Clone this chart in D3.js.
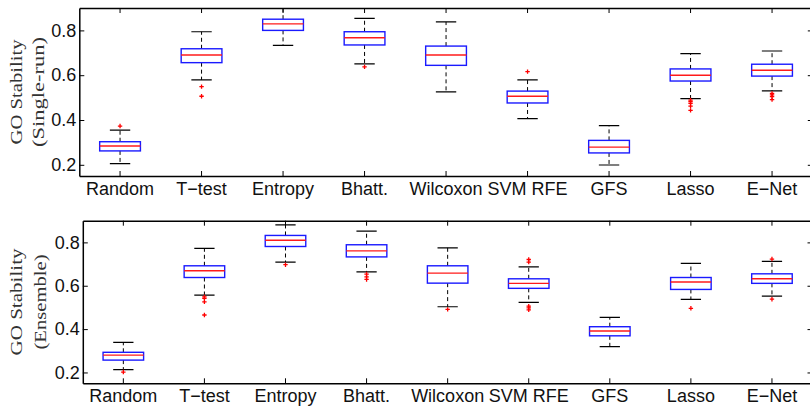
<!DOCTYPE html>
<html>
<head>
<meta charset="utf-8">
<script src="https://cdn.jsdelivr.net/npm/d3@7"></script>
<style>
  body { margin: 0; background: #fff; }
  svg { display: block; }
</style>
</head>
<body>
<svg id="chart" width="810" height="406"></svg>
<script>
// categories shared by both panels
const categories = ["Random", "T\u2212test", "Entropy", "Bhatt.", "Wilcoxon", "SVM RFE", "GFS", "Lasso", "E\u2212Net"];
const yTicks = [0.2, 0.4, 0.6, 0.8];

// single-run panel
const singleLo  = [0.205, 0.579, 0.733, 0.651, 0.526, 0.406, 0.199, 0.495, 0.530];
const singleQ1  = [0.262, 0.656, 0.800, 0.735, 0.644, 0.476, 0.253, 0.574, 0.596];
const singleMed = [0.284, 0.690, 0.829, 0.767, 0.690, 0.506, 0.279, 0.600, 0.622];
const singleQ3  = [0.303, 0.718, 0.850, 0.794, 0.730, 0.529, 0.309, 0.628, 0.649];
const singleHi  = [0.355, 0.794, 0.920, 0.854, 0.838, 0.579, 0.375, 0.696, 0.708];
const singleOut = [[0.373], [0.549, 0.506], [], [0.637], [], [0.616], [],
                   [0.489, 0.482, 0.474, 0.462, 0.443], [0.519, 0.512, 0.504, 0.491]];

// ensemble panel
const ensLo  = [0.213, 0.557, 0.709, 0.664, 0.503, 0.523, 0.319, 0.537, 0.552];
const ensQ1  = [0.257, 0.638, 0.781, 0.733, 0.612, 0.588, 0.369, 0.583, 0.611];
const ensMed = [0.280, 0.669, 0.810, 0.761, 0.658, 0.611, 0.391, 0.617, 0.632];
const ensQ3  = [0.293, 0.692, 0.832, 0.789, 0.692, 0.632, 0.411, 0.638, 0.655];
const ensHi  = [0.339, 0.772, 0.881, 0.852, 0.775, 0.687, 0.454, 0.703, 0.712];
const ensOut = [[0.202], [0.549, 0.542, 0.526, 0.465], [0.697], [0.654, 0.641, 0.629],
                [0.491], [0.721, 0.709, 0.506, 0.498, 0.489], [], [0.496], [0.723, 0.538]];

const svg = d3.select("#chart");

function drawPanel(id, box, label, lo, q1, med, q3, hi, out){
    let g = svg.append("g").attr("id", id);

    let x = d3.scaleBand().domain(categories).range([box.left, box.right]).padding(0);
    let y = d3.scaleLinear().domain([0.15, 0.9]).range([box.bottom, box.top]);
    let bw = x.bandwidth();
    let cx = d => x(d) + bw / 2;

    g.append("clipPath").attr("id", id + "Clip")
        .append("rect")
        .attr("x", box.left).attr("y", box.top)
        .attr("width", box.right - box.left).attr("height", box.bottom - box.top);

    let rows = categories.map((c, i) => ({c: c, lo: lo[i], q1: q1[i], med: med[i], q3: q3[i], hi: hi[i], out: out[i]}));
    let plot = g.append("g").attr("clip-path", "url(#" + id + "Clip)");

    // whiskers (dashed)
    plot.selectAll(".whiskerUp").data(rows).join("line")
        .attr("x1", d => cx(d.c)).attr("x2", d => cx(d.c))
        .attr("y1", d => y(d.q3)).attr("y2", d => y(d.hi))
        .attr("stroke", "#000").attr("stroke-width", 1).attr("stroke-dasharray", "4,3");
    plot.selectAll(".whiskerDown").data(rows).join("line")
        .attr("x1", d => cx(d.c)).attr("x2", d => cx(d.c))
        .attr("y1", d => y(d.q1)).attr("y2", d => y(d.lo))
        .attr("stroke", "#000").attr("stroke-width", 1).attr("stroke-dasharray", "4,3");

    // whisker caps
    for (let key of ["lo", "hi"]){
        plot.append("g").selectAll("line").data(rows).join("line")
            .attr("x1", d => cx(d.c) - bw * 0.125).attr("x2", d => cx(d.c) + bw * 0.125)
            .attr("y1", d => y(d[key])).attr("y2", d => y(d[key]))
            .attr("stroke", "#000").attr("stroke-width", 1.2);
    }

    // boxes
    plot.append("g").selectAll("rect").data(rows).join("rect")
        .attr("x", d => cx(d.c) - bw * 0.25)
        .attr("width", bw * 0.5)
        .attr("y", d => y(d.q3))
        .attr("height", d => y(d.q1) - y(d.q3))
        .attr("fill", "none").attr("stroke", "#1a1aff").attr("stroke-width", 1.4);

    // medians
    plot.append("g").selectAll("line").data(rows).join("line")
        .attr("x1", d => cx(d.c) - bw * 0.25).attr("x2", d => cx(d.c) + bw * 0.25)
        .attr("y1", d => y(d.med)).attr("y2", d => y(d.med))
        .attr("stroke", "#ff1a1a").attr("stroke-width", 1.4);

    // outliers as red plus marks
    let pts = rows.flatMap(d => d.out.map(v => ({c: d.c, v: v})));
    plot.append("g").selectAll("path").data(pts).join("path")
        .attr("d", d => {
            let px = cx(d.c), py = y(d.v), s = 2.2;
            return `M${px - s},${py}H${px + s}M${px},${py - s}V${py + s}`;
        })
        .attr("stroke", "#ff0000").attr("stroke-width", 1.3).attr("fill", "none");

    // axes with inward ticks
    let fmt = d3.format(".1f");
    let axL = g.append("g").attr("transform", `translate(${box.left},0)`)
        .call(d3.axisLeft(y).tickValues(yTicks).tickFormat(fmt).tickSize(-5).tickSizeOuter(0).tickPadding(3));
    let axR = g.append("g").attr("transform", `translate(${box.right},0)`)
        .call(d3.axisRight(y).tickValues(yTicks).tickFormat("").tickSize(-5).tickSizeOuter(0));
    let axB = g.append("g").attr("transform", `translate(0,${box.bottom})`)
        .call(d3.axisBottom(x).tickSize(-5).tickSizeOuter(0).tickPadding(6));
    let axT = g.append("g").attr("transform", `translate(0,${box.top})`)
        .call(d3.axisTop(x).tickFormat("").tickSize(-5).tickSizeOuter(0));

    for (let ax of [axL, axR, axB, axT]){
        ax.select(".domain").attr("stroke", "#000").attr("stroke-width", 1.5);
        ax.selectAll(".tick line").attr("stroke", "#000").attr("stroke-width", 1);
        ax.selectAll("text")
            .attr("font-family", "'Liberation Sans', Arial, sans-serif")
            .attr("font-size", 18).attr("fill", "#111");
    }

    // y label, two lines, serif
    let midY = (box.top + box.bottom) / 2;
    label.forEach((t, i) => {
        g.append("text")
            .attr("transform", `translate(${box.labelX[i]},${midY}) rotate(-90)`)
            .attr("text-anchor", "middle")
            .attr("font-family", "'Liberation Serif', 'DejaVu Serif', serif")
            .attr("font-size", 17)
            .attr("fill", "#333")
            .attr("textLength", box.labelLen[i])
            .attr("lengthAdjust", "spacingAndGlyphs")
            .text(t);
    });
}

drawPanel("single", {left: 79.3, right: 812.8, top: 8, bottom: 176, labelX: [22, 44], labelLen: [105, 110]},
    ["GO Stability", "(Single-run)"], singleLo, singleQ1, singleMed, singleQ3, singleHi, singleOut);
drawPanel("ensemble", {left: 82.8, right: 812.5, top: 220.7, bottom: 383.3, labelX: [22, 46], labelLen: [107, 95]},
    ["GO Stability", "(Ensemble)"], ensLo, ensQ1, ensMed, ensQ3, ensHi, ensOut);
</script>
</body>
</html>
